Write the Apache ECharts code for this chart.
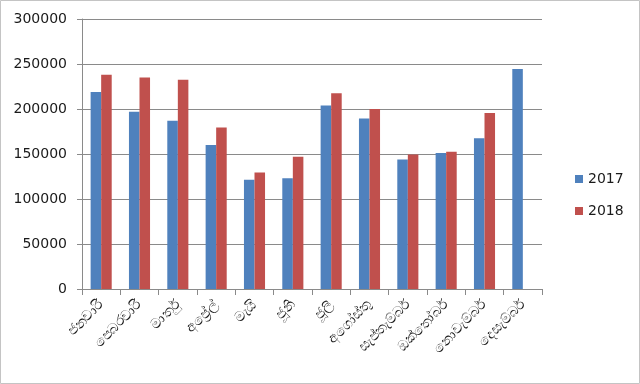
<!DOCTYPE html>
<html>
<head>
<meta charset="utf-8">
<script src="https://cdn.jsdelivr.net/npm/echarts@6/dist/echarts.min.js"></script>
<style>
html,body{margin:0;padding:0;background:#fff;}
#c{width:640px;height:384px;}
</style>
</head>
<body>
<div id="c"></div>
<script>
var categories = ['ජනවාරි','පෙබරවාරි','මාර්තු','අප්‍රේල්','මැයි','ජූනි','ජූලි','අගෝස්තු','සැප්තැම්බර්','ඔක්තෝබර්','නොවැම්බර්','දෙසැම්බර්'];
var series2017 = [219000, 197000, 187000, 160000, 121500, 123000, 204000, 189500, 144000, 151000, 167500, 244500];
var series2018 = [238000, 235000, 232500, 179500, 129500, 147000, 217500, 200000, 149500, 152500, 195500, null];
var seriesNames = ['2017', '2018'];
var yTicks = [0, 50000, 100000, 150000, 200000, 250000, 300000];

var chart = echarts.init(document.getElementById('c'), null, {renderer:'canvas'});
var font = '"DejaVu Sans", Verdana, sans-serif';
var gridColor = '#8a8a8a';
chart.setOption({
  animation: false,
  backgroundColor: '#fff',
  graphic: [{
    type: 'rect',
    shape: {x: 0.5, y: 0.5, width: 639, height: 383},
    style: {fill: 'none', stroke: '#c4c4c4', lineWidth: 1},
    silent: true, z: 100
  }],
  grid: {left: 82, right: 98, top: 19, bottom: 95, containLabel: false},
  legend: {
    orient: 'vertical', left: 570, top: 166,
    itemWidth: 8, itemHeight: 8, itemGap: 16,
    icon: 'rect',
    data: seriesNames,
    textStyle: {fontFamily: font, fontSize: 14, color: '#1a1a1a', lineHeight: 16, padding: [0,0,0,0]}
  },
  xAxis: {
    type: 'category',
    data: categories,
    axisLine: {lineStyle: {color: gridColor, width: 1}},
    axisTick: {show: true, length: 6, alignWithLabel: false, lineStyle: {color: gridColor}},
    axisLabel: {rotate: 45, fontFamily: font, fontSize: 14, color: '#1a1a1a', margin: 14, interval: 0}
  },
  yAxis: {
    type: 'value', min: yTicks[0], max: yTicks[yTicks.length-1], interval: 50000,
    axisLine: {show: true, lineStyle: {color: gridColor, width: 1}},
    axisTick: {show: true, length: 5, lineStyle: {color: gridColor}},
    splitLine: {lineStyle: {color: gridColor, width: 1}},
    axisLabel: {fontFamily: font, fontSize: 14, color: '#1a1a1a', margin: 15,
      formatter: function (v) { return String(v); }}
  },
  series: [
    {name: seriesNames[0], type: 'bar', data: series2017, barGap: '0%', barCategoryGap: '45%',
     itemStyle: {color: '#4F81BD'}},
    {name: seriesNames[1], type: 'bar', data: series2018, barGap: '0%', barCategoryGap: '45%',
     itemStyle: {color: '#C0504D'}}
  ]
});
</script>
</body>
</html>
